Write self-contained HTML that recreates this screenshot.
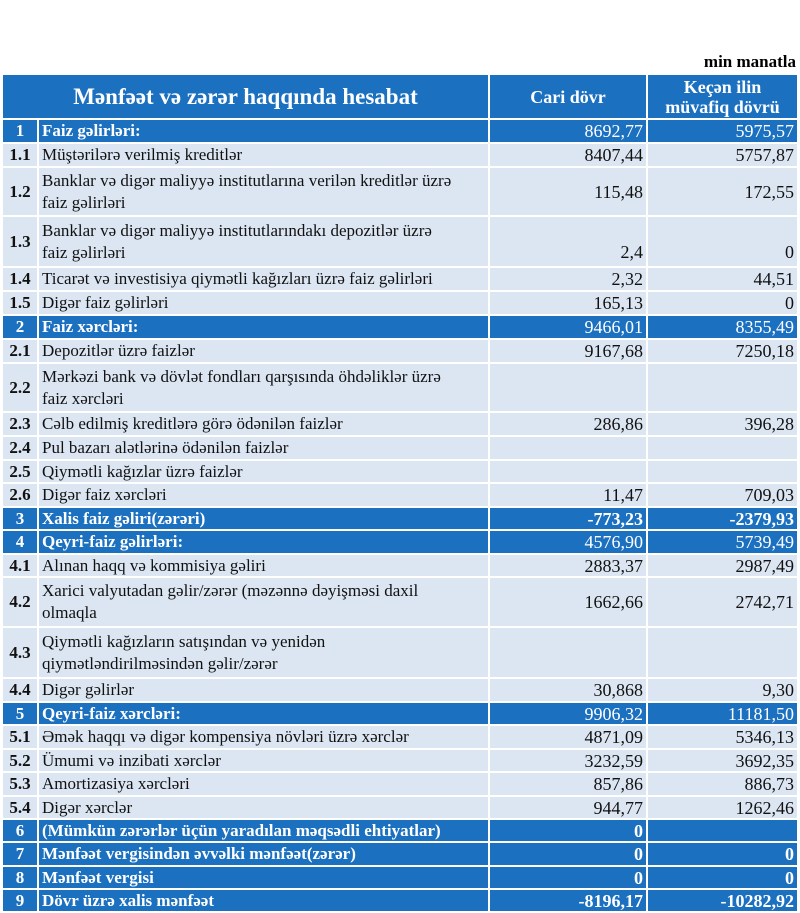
<!DOCTYPE html>
<html><head><meta charset="utf-8"><style>
body{margin:0;width:800px;height:913px;background:#fff;position:relative;overflow:hidden;font-family:"Liberation Serif","DejaVu Serif",serif;}
.r{position:absolute;left:0;width:800px;}
.c{position:absolute;top:0;bottom:0;box-sizing:border-box;display:flex;align-items:center;font-size:17px;color:#111;line-height:22px;white-space:nowrap;}
.l .c{background:#dce6f2;}
.d .c{background:#1c70c0;color:#fff;font-weight:bold;}
.c1{left:3px;width:34px;justify-content:center;font-weight:bold;}
.c2{left:39px;width:449px;padding-left:3px;}
.c3{left:490px;width:156px;justify-content:flex-end;padding-right:3px;font-size:18px;}
.c4{left:648px;width:149px;justify-content:flex-end;padding-right:3px;font-size:18px;}
.d .c3,.d .c4{font-weight:normal;}
.b .c3,.b .c4{font-weight:bold;}
</style></head><body>
<div style="position:absolute;right:4px;top:52px;font-size:17px;font-weight:bold;">min manatla</div>
<div class="r d" style="top:75px;height:43px">
<div class="c" style="left:3px;width:485px;justify-content:center;font-size:23px;">Mənfəət və zərər haqqında hesabat</div>
<div class="c c3" style="justify-content:center;padding:0;font-weight:bold;font-size:18px">Cari dövr</div>
<div class="c c4" style="justify-content:center;padding:0;text-align:center;font-weight:bold;font-size:18px;line-height:20px">Keçən ilin<br>müvafiq dövrü</div>
</div>
<div class="r d" style="top:120px;height:22px"><div class="c c1">1</div><div class="c c2">Faiz gəlirləri:</div><div class="c c3">8692,77</div><div class="c c4">5975,57</div></div>
<div class="r l" style="top:144px;height:22px"><div class="c c1">1.1</div><div class="c c2">Müştərilərə verilmiş kreditlər</div><div class="c c3">8407,44</div><div class="c c4">5757,87</div></div>
<div class="r l" style="top:168px;height:47px"><div class="c c1">1.2</div><div class="c c2">Banklar və digər maliyyə institutlarına verilən kreditlər üzrə<br>faiz gəlirləri</div><div class="c c3">115,48</div><div class="c c4">172,55</div></div>
<div class="r l" style="top:217px;height:49px"><div class="c c1">1.3</div><div class="c c2">Banklar və digər maliyyə institutlarındakı depozitlər üzrə<br>faiz gəlirləri</div><div class="c c3" style="align-items:flex-end;padding-bottom:3px">2,4</div><div class="c c4" style="align-items:flex-end;padding-bottom:3px">0</div></div>
<div class="r l" style="top:268px;height:22px"><div class="c c1">1.4</div><div class="c c2">Ticarət və investisiya qiymətli kağızları üzrə faiz gəlirləri</div><div class="c c3">2,32</div><div class="c c4">44,51</div></div>
<div class="r l" style="top:292px;height:22px"><div class="c c1">1.5</div><div class="c c2">Digər faiz gəlirləri</div><div class="c c3">165,13</div><div class="c c4">0</div></div>
<div class="r d" style="top:316px;height:22px"><div class="c c1">2</div><div class="c c2">Faiz xərcləri:</div><div class="c c3">9466,01</div><div class="c c4">8355,49</div></div>
<div class="r l" style="top:340px;height:22px"><div class="c c1">2.1</div><div class="c c2">Depozitlər üzrə faizlər</div><div class="c c3">9167,68</div><div class="c c4">7250,18</div></div>
<div class="r l" style="top:364px;height:47px"><div class="c c1">2.2</div><div class="c c2">Mərkəzi bank və dövlət fondları qarşısında öhdəliklər üzrə<br>faiz xərcləri</div><div class="c c3"></div><div class="c c4"></div></div>
<div class="r l" style="top:413px;height:22px"><div class="c c1">2.3</div><div class="c c2">Cəlb edilmiş kreditlərə görə ödənilən faizlər</div><div class="c c3">286,86</div><div class="c c4">396,28</div></div>
<div class="r l" style="top:437px;height:22px"><div class="c c1">2.4</div><div class="c c2">Pul bazarı alətlərinə ödənilən faizlər</div><div class="c c3"></div><div class="c c4"></div></div>
<div class="r l" style="top:461px;height:21px"><div class="c c1">2.5</div><div class="c c2">Qiymətli kağızlar üzrə faizlər</div><div class="c c3"></div><div class="c c4"></div></div>
<div class="r l" style="top:484px;height:22px"><div class="c c1">2.6</div><div class="c c2">Digər faiz xərcləri</div><div class="c c3">11,47</div><div class="c c4">709,03</div></div>
<div class="r d b" style="top:508px;height:21px"><div class="c c1">3</div><div class="c c2">Xalis faiz gəliri(zərəri)</div><div class="c c3">-773,23</div><div class="c c4">-2379,93</div></div>
<div class="r d" style="top:531px;height:22px"><div class="c c1">4</div><div class="c c2">Qeyri-faiz gəlirləri:</div><div class="c c3">4576,90</div><div class="c c4">5739,49</div></div>
<div class="r l" style="top:555px;height:21px"><div class="c c1">4.1</div><div class="c c2">Alınan haqq və kommisiya gəliri</div><div class="c c3">2883,37</div><div class="c c4">2987,49</div></div>
<div class="r l" style="top:578px;height:48px"><div class="c c1">4.2</div><div class="c c2">Xarici valyutadan gəlir/zərər (məzənnə dəyişməsi daxil<br>olmaqla</div><div class="c c3">1662,66</div><div class="c c4">2742,71</div></div>
<div class="r l" style="top:628px;height:49px"><div class="c c1">4.3</div><div class="c c2">Qiymətli kağızların satışından və yenidən<br>qiymətləndirilməsindən gəlir/zərər</div><div class="c c3"></div><div class="c c4"></div></div>
<div class="r l" style="top:679px;height:22px"><div class="c c1">4.4</div><div class="c c2">Digər gəlirlər</div><div class="c c3">30,868</div><div class="c c4">9,30</div></div>
<div class="r d" style="top:703px;height:21px"><div class="c c1">5</div><div class="c c2">Qeyri-faiz xərcləri:</div><div class="c c3">9906,32</div><div class="c c4">11181,50</div></div>
<div class="r l" style="top:726px;height:22px"><div class="c c1">5.1</div><div class="c c2">Əmək haqqı və digər kompensiya növləri üzrə xərclər</div><div class="c c3">4871,09</div><div class="c c4">5346,13</div></div>
<div class="r l" style="top:750px;height:21px"><div class="c c1">5.2</div><div class="c c2">Ümumi və inzibati xərclər</div><div class="c c3">3232,59</div><div class="c c4">3692,35</div></div>
<div class="r l" style="top:773px;height:22px"><div class="c c1">5.3</div><div class="c c2">Amortizasiya xərcləri</div><div class="c c3">857,86</div><div class="c c4">886,73</div></div>
<div class="r l" style="top:797px;height:21px"><div class="c c1">5.4</div><div class="c c2">Digər xərclər</div><div class="c c3">944,77</div><div class="c c4">1262,46</div></div>
<div class="r d b" style="top:820px;height:21px"><div class="c c1">6</div><div class="c c2">(Mümkün zərərlər üçün yaradılan məqsədli ehtiyatlar)</div><div class="c c3">0</div><div class="c c4"></div></div>
<div class="r d b" style="top:843px;height:22px"><div class="c c1">7</div><div class="c c2">Mənfəət vergisindən əvvəlki mənfəət(zərər)</div><div class="c c3">0</div><div class="c c4">0</div></div>
<div class="r d b" style="top:867px;height:21px"><div class="c c1">8</div><div class="c c2">Mənfəət vergisi</div><div class="c c3">0</div><div class="c c4">0</div></div>
<div class="r d b" style="top:890px;height:21px"><div class="c c1">9</div><div class="c c2">Dövr üzrə xalis mənfəət</div><div class="c c3">-8196,17</div><div class="c c4">-10282,92</div></div>
</body></html>
